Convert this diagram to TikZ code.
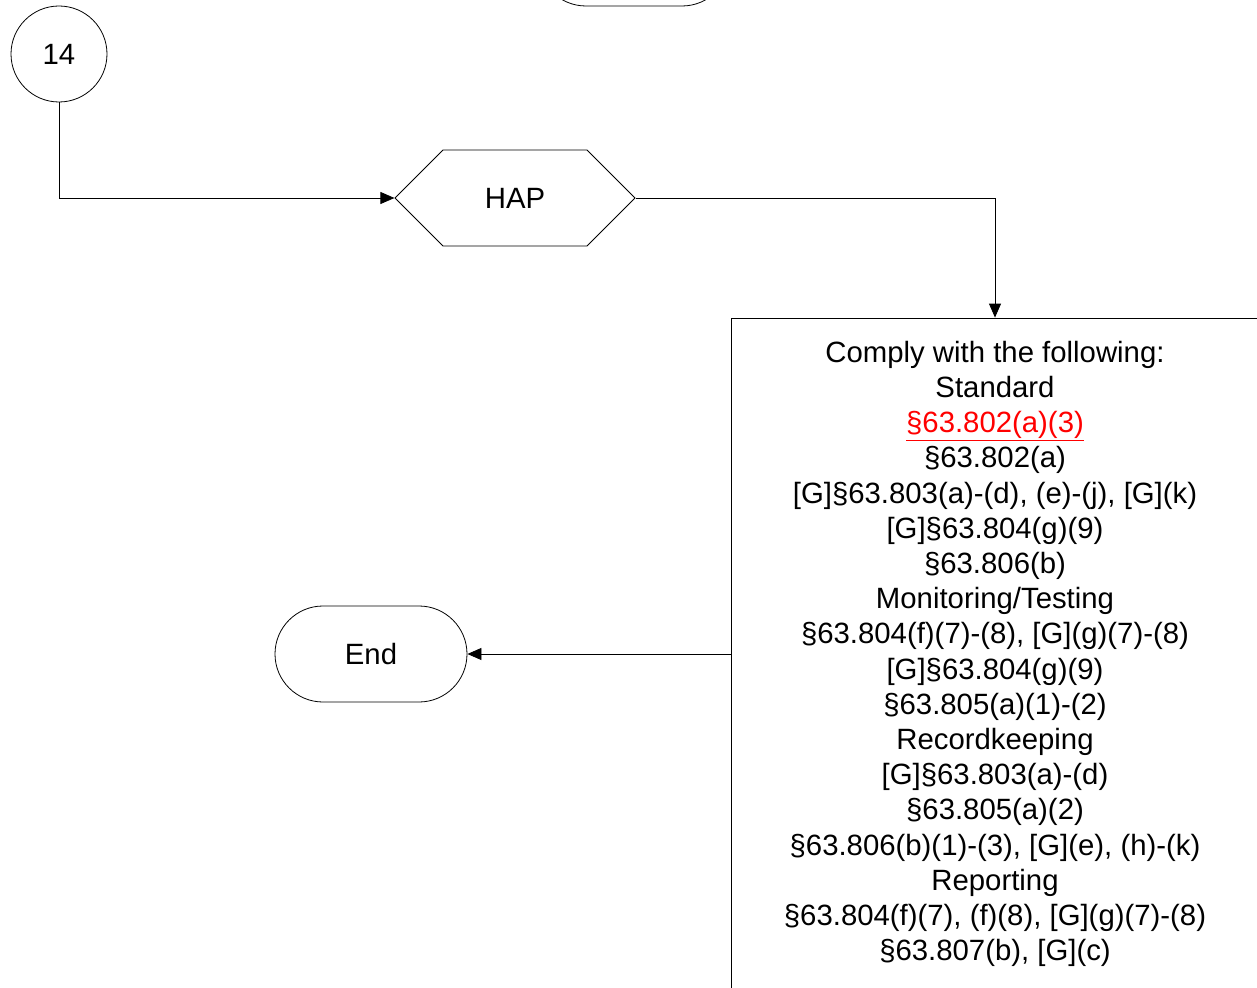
\documentclass[tikz,border=0pt]{standalone}
\usepackage{fontspec}
\setmainfont{Liberation Sans}
\usetikzlibrary{shapes.misc, shapes.symbols, arrows.meta}

\begin{document}
\begin{tikzpicture}[x=0.75pt, y=-0.75pt,
		every node/.style={font=\fontsize{22}{26.4}\selectfont, line width=0.6pt},
		conn/.style={draw=black, line width=0.6pt, -{Triangle[length=10.5pt, width=9pt]}},
		term/.style={draw, rounded corners=36pt, minimum width=144pt, minimum height=72pt, inner sep=0pt}]
		\useasboundingbox (0,0) rectangle (1257,988);
		\clip (0,0) rectangle (1257,988);
		%\draw[help lines] (0,0) grid (1257,988);
		
		\node[term] (start) at (634,-42) {};
		\node[circle, draw, minimum size=72pt, inner sep=0pt] (c14) at (59,54) {14};
		\node[signal, draw, signal to=east and west, signal pointer angle=90,
			minimum width=180pt, minimum height=72pt, inner sep=0pt] (hap) at (515,198) {HAP};
		
		\node[draw, minimum width=396pt, minimum height=504pt, align=center] (req) at (995,654) {
			Comply with the following:\\
			Standard\\
			\textcolor{red}{\underline{§63.802(a)(3)}}\\
			§63.802(a)\\
			{[G]}§63.803(a)-(d), (e)-(j), [G](k)\\
			{[G]}§63.804(g)(9)\\
			§63.806(b)\\
			Monitoring/Testing\\
			§63.804(f)(7)-(8), [G](g)(7)-(8)\\
			{[G]}§63.804(g)(9)\\
			§63.805(a)(1)-(2)\\
			Recordkeeping\\
			{[G]}§63.803(a)-(d)\\
			§63.805(a)(2)\\
			§63.806(b)(1)-(3), [G](e), (h)-(k)\\
			Reporting\\
			§63.804(f)(7), (f)(8), [G](g)(7)-(8)\\
			§63.807(b), [G](c)};
		
		\node[term] (end) at (371,654) {End};
		
		\draw[conn] (c14) |- (hap);
		\draw[conn] (hap) -| (req);
		\draw[conn] (req) -- (end);
	\end{tikzpicture}
\end{document}
